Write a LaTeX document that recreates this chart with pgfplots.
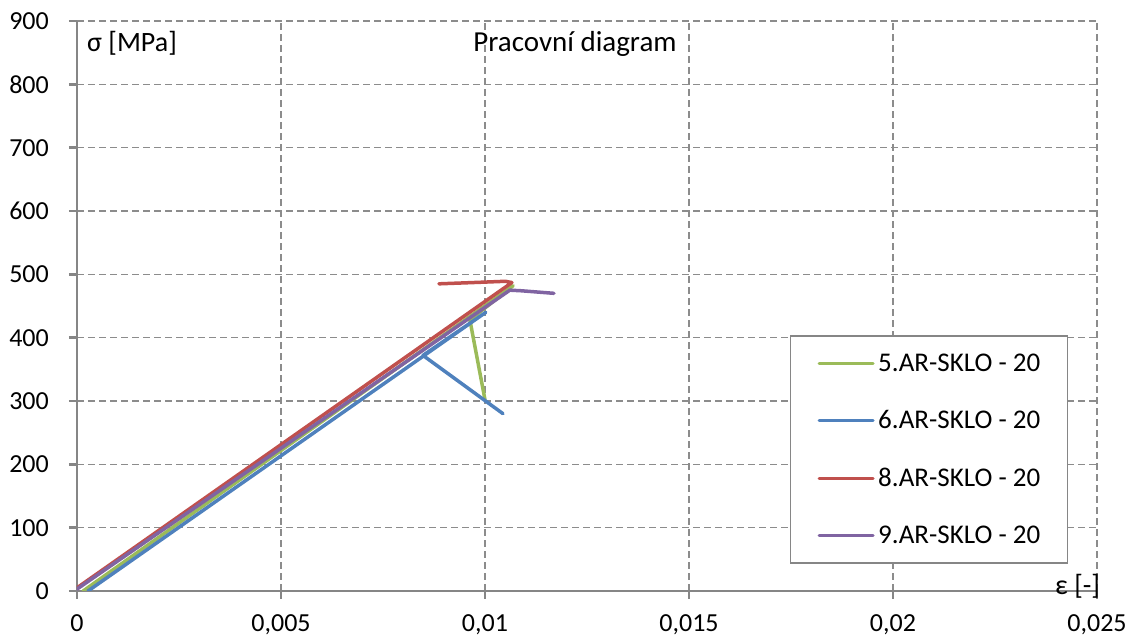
\documentclass[border=0pt]{standalone}
\usepackage{pgfplots}
\pgfplotsset{compat=1.18}
\usepackage{fontspec}
\setmainfont{Carlito}
\definecolor{cGreen}{HTML}{9BBB59}
\definecolor{cBlue}{HTML}{4F81BD}
\definecolor{cRed}{HTML}{C0504D}
\definecolor{cPurple}{HTML}{8064A2}
\definecolor{axisgray}{HTML}{868686}
\definecolor{gridgray}{HTML}{8C8C8C}
\newcommand{\fs}{\fontsize{26}{31}\selectfont}
\newcommand{\fl}{\fontsize{27}{32}\selectfont}
\newcommand{\fa}{\fontsize{28}{33}\selectfont}
\newcommand{\ft}{\fontsize{29}{34}\selectfont}
\begin{document}
\begin{tikzpicture}
\useasboundingbox (-77pt,-48pt) rectangle (1052pt,591pt);
\begin{axis}[
  at={(0pt,0pt)}, anchor=south west,
  width=1020pt, height=570pt, scale only axis,
  xmin=0, xmax=0.025, ymin=0, ymax=900,
  axis lines*=left,
  axis line style={draw=axisgray, line width=2.5pt},
  xtick={0,0.005,0.01,0.015,0.02,0.025},
  xticklabels={0,{0,005},{0,01},{0,015},{0,02},{0,025}},
  ytick={0,100,200,300,400,500,600,700,800,900},
  tick align=outside, major tick length=8pt,
  tick style={draw=axisgray, line width=2.5pt},
  grid=major,
  major grid style={draw=gridgray, line width=1.3pt, dash pattern=on 7pt off 4pt},
  ticklabel style={font=\fs, inner sep=0pt},
  yticklabel style={xshift=-20pt},
  xticklabel style={yshift=-15pt},
  /pgf/number format/assume math mode=true,
  legend cell align=left,
  legend style={at={(0.699,0.449)}, anchor=north west, font=\fl,
    draw=axisgray, line width=1.5pt, fill=white,
    inner xsep=27pt, inner ysep=18pt, row sep=37.9pt, column sep=3.5pt,
    nodes={inner sep=0pt}},
  legend image code/.code={\draw[#1, line width=3pt] (0pt,0pt) -- (54pt,0pt);},
  every axis plot/.append style={line width=3.5pt, line join=round, line cap=round},
]
\addplot[cGreen] coordinates {(0.00015,0) (0.01069,482) (0.00963,428) (0.0100,302)};
\addlegendentry{5.AR-SKLO - 20}
\addplot[cBlue] coordinates {(0.00027,0) (0.01002,440) (0.00848,372) (0.01044,280)};
\addlegendentry{6.AR-SKLO - 20}
\addplot[cRed] coordinates {(0,5) (0.01066,487) (0.0105,489) (0.0097,487) (0.00887,485)};
\addlegendentry{8.AR-SKLO - 20}
\addplot[cPurple] coordinates {(0,3) (0.01061,475) (0.0109,474) (0.01169,470)};
\addlegendentry{9.AR-SKLO - 20}
\end{axis}
\node[anchor=base west, font=\fa, inner sep=0pt] at (10pt,539pt) {σ [MPa]};
\node[anchor=base, font=\ft, inner sep=0pt] at (498pt,539pt) {Pracovní diagram};
\node[anchor=base west, font=\fa, inner sep=0pt] at (978pt,-4pt) {ε [-]};
\end{tikzpicture}
\end{document}
